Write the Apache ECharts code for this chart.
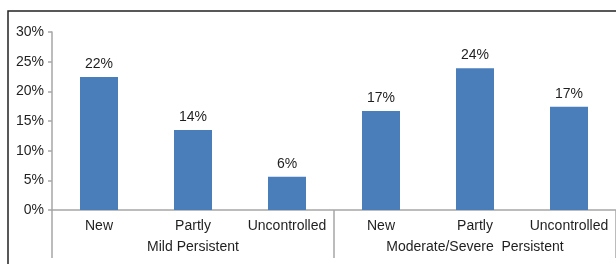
<!DOCTYPE html>
<html><head><meta charset="utf-8">
<script src="https://cdn.jsdelivr.net/npm/echarts@6/dist/echarts.min.js"></script>
<style>html,body{margin:0;padding:0;background:#fff}#c{width:616px;height:264px}</style>
</head><body><div id="c"></div>
<script>
const categories = ['New', 'Partly', 'Uncontrolled', 'New', 'Partly', 'Uncontrolled'];
const groups = ['Mild Persistent', 'Moderate/Severe  Persistent'];
const values = [22.4, 13.5, 5.6, 16.7, 23.9, 17.4];
const valueLabels = ['22%', '14%', '6%', '17%', '24%', '17%'];
const yTicks = [0, 5, 10, 15, 20, 25, 30];

const chart = echarts.init(document.getElementById('c'), null, {renderer: 'canvas'});
const axisGrey = '#a6a6a6';
const txt = '#1f1f1f';
const font = '"Liberation Sans", Arial, sans-serif';
const fs = 14;
chart.setOption({
  animation: false,
  graphic: [{
    type: 'polyline', silent: true,
    shape: {points: [[8, 264], [8, 11], [616, 11]]},
    style: {stroke: '#222', lineWidth: 1.5, fill: null}
  }],
  grid: {left: 52, top: 32, bottom: 54, width: 570, containLabel: false},
  xAxis: [{
    type: 'category', data: categories, position: 'bottom',
    axisLine: {lineStyle: {color: axisGrey, width: 1.5}},
    axisTick: {length: 23, lineStyle: {color: axisGrey, width: 1.5}},
    axisLabel: {color: txt, fontSize: fs, fontFamily: font, margin: 9, interval: 0}
  }, {
    type: 'category', data: groups, position: 'bottom',
    axisLine: {show: false},
    axisTick: {show: true, length: 48, lineStyle: {color: axisGrey, width: 1.5}},
    axisLabel: {color: txt, fontSize: fs, fontFamily: font, margin: 30, interval: 0}
  }],
  yAxis: {
    type: 'value', min: yTicks[0], max: yTicks[yTicks.length - 1], interval: 5,
    axisLine: {show: true, lineStyle: {color: axisGrey, width: 1.5}},
    axisTick: {show: true, length: 4, lineStyle: {color: axisGrey, width: 1.5}},
    splitLine: {show: false},
    axisLabel: {color: txt, fontSize: fs, fontFamily: font, margin: 8, formatter: '{value}%'}
  },
  series: [{
    type: 'bar', data: values, barWidth: 38, xAxisIndex: 0,
    itemStyle: {color: '#4a7ebb'},
    label: {show: true, position: 'top', distance: 6, color: txt, fontSize: fs, fontFamily: font,
      formatter: p => valueLabels[p.dataIndex]}
  }]
});
</script></body></html>
